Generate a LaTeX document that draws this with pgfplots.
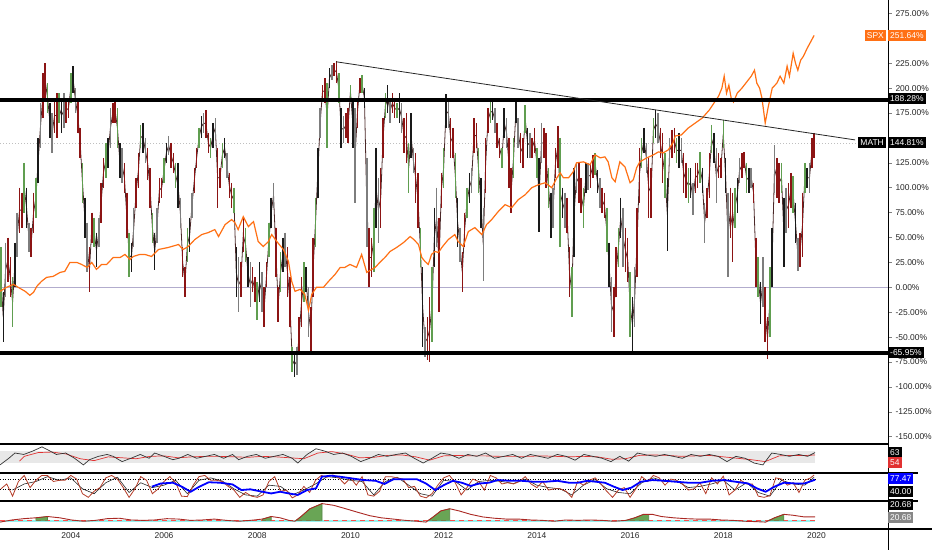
\documentclass[border=0pt]{standalone}
\usepackage{fontspec}
\setmainfont{Liberation Sans}
\usepackage{pgfplots}
\usepackage{pgfplotstable}
\pgfplotsset{compat=1.18}

\definecolor{spx}{RGB}{255,112,20}
\definecolor{zeroline}{RGB}{178,172,205}
\definecolor{rsiband}{RGB}{232,232,232}
\definecolor{rsired}{RGB}{225,50,50}
\definecolor{stochred}{RGB}{180,60,40}
\definecolor{adxgreen}{RGB}{105,165,85}
\definecolor{adxred}{RGB}{170,40,35}
\definecolor{cyanband}{RGB}{150,242,238}
\definecolor{lblgrey}{RGB}{135,135,135}
\definecolor{midline}{RGB}{75,40,40}
\newcommand\lbl{\fontsize{8.5}{10}\selectfont}

% MATH weekly ranges (% change), sampled every 0.05 yr: x high low
\pgfplotstableread{
x hi lo
2002.50 40 -20
2002.55 -5 -55
2002.60 45 -10
2002.65 50 5
2002.70 30 -10
2002.75 10 -40
2002.80 45 0
2002.85 75 30
2002.90 100 55
2002.95 95 60
2003.00 125 75
2003.05 100 60
2003.10 65 35
2003.15 60 30
2003.20 95 55
2003.25 110 70
2003.30 150 105
2003.35 185 140
2003.40 215 170
2003.45 225 190
2003.50 205 175
2003.55 185 150
2003.60 175 135
2003.65 190 155
2003.70 195 150
2003.75 195 165
2003.80 190 155
2003.85 195 160
2003.90 190 165
2003.95 190 170
2004.00 215 185
2004.05 222 195
2004.10 200 175
2004.15 190 155
2004.20 160 130
2004.25 125 85
2004.30 90 50
2004.35 65 15
2004.40 40 -5
2004.45 75 45
2004.50 70 40
2004.55 55 20
2004.60 70 40
2004.65 105 65
2004.70 130 100
2004.75 145 110
2004.80 150 120
2004.85 180 140
2004.90 185 165
2004.95 190 165
2005.00 180 140
2005.05 145 110
2005.10 140 105
2005.15 125 95
2005.20 95 50
2005.25 55 10
2005.30 45 15
2005.35 80 40
2005.40 110 80
2005.45 135 100
2005.50 163 140
2005.55 165 135
2005.60 150 125
2005.65 140 108
2005.70 120 80
2005.75 75 45
2005.80 55 17
2005.85 80 45
2005.90 110 85
2005.95 110 90
2006.00 130 105
2006.05 145 125
2006.10 152 133
2006.15 145 120
2006.20 135 115
2006.25 125 100
2006.30 125 80
2006.35 90 60
2006.40 40 10
2006.45 20 -10
2006.50 60 25
2006.55 70 35
2006.60 95 70
2006.65 120 95
2006.70 140 120
2006.75 160 140
2006.80 172 150
2006.85 175 155
2006.90 178 150
2006.95 155 135
2007.00 150 130
2007.05 165 140
2007.10 170 150
2007.15 140 80
2007.20 120 100
2007.25 145 120
2007.30 150 130
2007.35 135 110
2007.40 115 90
2007.45 105 80
2007.50 100 75
2007.55 40 -10
2007.60 30 -25
2007.65 25 -10
2007.70 70 35
2007.75 60 25
2007.80 30 0
2007.85 25 -20
2007.90 20 -5
2007.95 10 -15
2008.00 5 -33
2008.05 25 -15
2008.10 15 -25
2008.15 0 -40
2008.20 25 0
2008.25 65 30
2008.30 90 60
2008.35 105 80
2008.40 60 10
2008.45 0 -35
2008.50 35 -5
2008.55 50 15
2008.60 55 20
2008.65 40 -10
2008.70 10 -40
2008.75 -60 -85
2008.80 -65 -90
2008.85 -60 -88
2008.90 -30 -65
2008.95 10 -40
2009.00 25 -15
2009.05 20 -5
2009.10 0 -50
2009.15 -20 -68
2009.20 50 -10
2009.25 90 40
2009.30 140 90
2009.35 180 150
2009.40 203 190
2009.45 210 185
2009.50 205 140
2009.55 220 200
2009.60 223 208
2009.65 225 212
2009.70 227 205
2009.75 215 185
2009.80 180 140
2009.85 172 145
2009.90 175 150
2009.95 180 145
2010.00 203 190
2010.05 190 140
2010.10 180 85
2010.15 190 160
2010.20 210 195
2010.25 213 195
2010.30 200 180
2010.35 130 40
2010.40 60 0
2010.45 50 10
2010.50 80 15
2010.55 140 60
2010.60 110 45
2010.65 120 60
2010.70 170 130
2010.75 195 170
2010.80 203 175
2010.85 190 165
2010.90 195 175
2010.95 190 170
2011.00 185 170
2011.05 195 165
2011.10 185 155
2011.15 170 135
2011.20 175 125
2011.25 145 95
2011.30 175 130
2011.35 140 115
2011.40 135 85
2011.45 115 60
2011.50 60 20
2011.55 20 -60
2011.60 -40 -70
2011.65 -30 -73
2011.70 -10 -75
2011.75 20 -55
2011.80 80 20
2011.85 100 40
2011.90 70 -25
2011.95 115 80
2012.00 140 100
2012.05 194 160
2012.10 190 160
2012.15 170 130
2012.20 160 130
2012.25 135 90
2012.30 90 40
2012.35 60 25
2012.40 35 -5
2012.45 75 40
2012.50 100 70
2012.55 115 85
2012.60 120 95
2012.65 170 135
2012.70 165 140
2012.75 140 95
2012.80 110 60
2012.85 80 6
2012.90 150 95
2012.95 180 155
2013.00 186 165
2013.05 186 168
2013.10 180 155
2013.15 165 140
2013.20 150 130
2013.25 140 120
2013.30 180 150
2013.35 170 140
2013.40 150 100
2013.45 120 75
2013.50 150 110
2013.55 188 165
2013.60 170 140
2013.65 155 125
2013.70 150 120
2013.75 183 155
2013.80 160 130
2013.85 155 130
2013.90 150 130
2013.95 160 135
2014.00 140 110
2014.05 130 56
2014.10 165 125
2014.15 160 130
2014.20 155 100
2014.25 120 80
2014.30 95 50
2014.35 100 60
2014.40 140 110
2014.45 162 120
2014.50 150 40
2014.55 100 70
2014.60 95 60
2014.65 90 55
2014.70 40 -10
2014.75 20 -30
2014.80 120 30
2014.85 125 95
2014.90 125 85
2014.95 110 75
2015.00 100 60
2015.05 125 95
2015.10 125 98
2015.15 125 100
2015.20 133 110
2015.25 135 113
2015.30 118 95
2015.35 110 80
2015.40 100 75
2015.45 95 70
2015.50 80 35
2015.55 45 0
2015.60 10 -45
2015.65 0 -50
2015.70 40 -10
2015.75 60 20
2015.80 90 50
2015.85 80 20
2015.90 60 15
2015.95 50 5
2016.00 15 -50
2016.05 -10 -64
2016.10 20 -40
2016.15 80 10
2016.20 140 85
2016.25 150 120
2016.30 160 135
2016.35 145 115
2016.40 130 70
2016.45 120 70
2016.50 170 145
2016.55 178 150
2016.60 175 145
2016.65 160 130
2016.70 155 105
2016.75 135 90
2016.80 110 36
2016.85 150 125
2016.90 158 130
2016.95 160 135
2017.00 150 125
2017.05 155 120
2017.10 150 125
2017.15 135 95
2017.20 125 90
2017.25 120 85
2017.30 120 90
2017.35 105 73
2017.40 125 95
2017.45 125 100
2017.50 136 105
2017.55 120 95
2017.60 85 45
2017.65 100 70
2017.70 135 90
2017.75 163 135
2017.80 155 125
2017.85 140 85
2017.90 135 110
2017.95 130 110
2018.00 168 140
2018.05 130 95
2018.10 95 10
2018.15 100 50
2018.20 95 25
2018.25 100 60
2018.30 110 75
2018.35 130 105
2018.40 135 110
2018.45 136 120
2018.50 125 95
2018.55 120 95
2018.60 120 100
2018.65 105 85
2018.70 50 0
2018.75 30 -10
2018.80 5 -37
2018.85 30 -20
2018.90 0 -55
2018.95 -30 -72
2019.00 20 -50
2019.05 60 0
2019.10 143 95
2019.15 130 90
2019.20 125 85
2019.25 125 95
2019.30 90 20
2019.35 100 55
2019.40 105 60
2019.45 115 80
2019.50 112 75
2019.55 85 45
2019.60 50 16
2019.65 55 20
2019.70 95 30
2019.75 125 95
2019.80 120 100
2019.85 125 95
2019.90 150 120
2019.95 155 130
}\mathdata

% SPX (% change)
\pgfplotstableread{
x y
2002.48 -4
2002.62 0
2002.77 3
2002.87 0
2003.02 -4
2003.12 -8
2003.20 -5
2003.27 1
2003.37 6
2003.48 10
2003.62 11
2003.77 15
2003.87 16
2003.98 25
2004.13 25
2004.23 23
2004.35 20
2004.45 25
2004.55 18
2004.66 23
2004.77 23
2004.91 30
2005.06 30
2005.16 33
2005.27 28
2005.34 31
2005.48 33
2005.59 33
2005.73 31
2005.88 38
2006.09 40
2006.31 43
2006.41 38
2006.52 41
2006.66 48
2006.81 53
2006.95 55
2007.09 58
2007.17 51
2007.31 63
2007.45 68
2007.52 65
2007.59 58
2007.70 71
2007.81 61
2007.92 66
2008.02 46
2008.13 41
2008.24 46
2008.31 53
2008.42 46
2008.56 38
2008.67 26
2008.74 6
2008.81 -4
2008.92 -2
2009.02 -7
2009.10 -23
2009.17 -7
2009.27 0
2009.42 0
2009.53 6
2009.67 13
2009.78 20
2009.88 20
2009.99 23
2010.13 20
2010.24 33
2010.35 15
2010.42 17
2010.53 20
2010.63 25
2010.74 30
2010.85 36
2010.99 40
2011.14 45
2011.28 51
2011.36 48
2011.46 43
2011.53 30
2011.60 26
2011.67 23
2011.74 33
2011.81 36
2011.89 35
2011.96 40
2012.10 48
2012.24 53
2012.31 46
2012.42 41
2012.53 56
2012.67 60
2012.82 53
2012.92 63
2013.03 68
2013.17 76
2013.32 83
2013.46 80
2013.60 88
2013.75 93
2013.89 100
2014.03 103
2014.18 105
2014.32 100
2014.43 110
2014.50 115
2014.57 110
2014.68 110
2014.78 116
2014.85 125
2015.00 126
2015.14 123
2015.25 133
2015.36 130
2015.46 131
2015.53 126
2015.61 110
2015.68 106
2015.78 126
2015.89 121
2016.00 105
2016.07 108
2016.14 120
2016.21 126
2016.36 130
2016.50 133
2016.61 136
2016.71 135
2016.82 138
2016.92 145
2016.97 152
2017.10 153
2017.25 160
2017.40 165
2017.55 170
2017.70 178
2017.80 185
2017.90 192
2017.97 200
2018.02 212
2018.07 195
2018.12 203
2018.17 190
2018.22 186
2018.30 195
2018.40 200
2018.50 206
2018.60 212
2018.67 218
2018.72 205
2018.78 200
2018.83 190
2018.90 165
2018.96 180
2019.05 200
2019.15 205
2019.22 212
2019.30 205
2019.37 222
2019.42 212
2019.50 235
2019.55 225
2019.60 218
2019.66 228
2019.72 232
2019.80 240
2019.87 246
2019.95 253
}\spxdata

% RSI
\pgfplotstableread{
x y
2002.48 37
2002.67 51
2002.80 62
2002.99 59
2003.18 66
2003.38 75
2003.50 69
2003.69 59
2003.89 62
2004.08 51
2004.27 37
2004.40 48
2004.59 55
2004.78 59
2004.91 55
2005.10 44
2005.29 51
2005.49 59
2005.68 51
2005.80 62
2006.00 55
2006.19 48
2006.32 51
2006.51 59
2006.70 51
2006.89 55
2007.08 59
2007.28 51
2007.47 59
2007.60 48
2007.79 55
2007.98 59
2008.17 51
2008.36 55
2008.55 59
2008.75 51
2008.87 41
2009.07 59
2009.26 71
2009.45 66
2009.64 59
2009.83 62
2010.02 55
2010.22 44
2010.41 51
2010.60 59
2010.79 55
2010.98 59
2011.18 62
2011.37 51
2011.56 41
2011.75 51
2011.94 62
2012.13 59
2012.33 51
2012.52 59
2012.71 55
2012.90 62
2013.09 51
2013.29 55
2013.48 59
2013.67 51
2013.86 59
2014.05 55
2014.24 51
2014.44 59
2014.63 55
2014.82 47
2015.01 59
2015.20 55
2015.40 51
2015.59 44
2015.78 55
2015.97 45
2016.16 62
2016.35 58
2016.55 55
2016.74 59
2016.93 55
2017.12 51
2017.31 59
2017.51 55
2017.70 59
2017.89 55
2018.08 44
2018.27 55
2018.47 51
2018.66 41
2018.85 37
2019.04 62
2019.23 59
2019.42 55
2019.62 59
2019.81 55
2019.97 63
}\rsidata

\pgfplotstableread{
x y
2002.90 45
2003.00 55
2003.30 63
2003.60 64
2003.90 60
2004.20 50
2004.50 46
2004.80 54
2005.10 52
2005.40 50
2005.70 55
2006.00 56
2006.30 52
2006.60 54
2006.90 55
2007.20 55
2007.50 54
2007.80 53
2008.10 55
2008.40 54
2008.70 52
2009.00 50
2009.30 62
2009.60 65
2009.90 60
2010.20 52
2010.50 53
2010.80 57
2011.10 58
2011.40 54
2011.70 47
2012.00 56
2012.30 57
2012.60 56
2012.90 56
2013.20 55
2013.50 55
2013.80 55
2014.10 56
2014.40 55
2014.70 54
2015.00 55
2015.30 54
2015.60 49
2015.90 50
2016.20 57
2016.50 58
2016.80 57
2017.10 55
2017.40 56
2017.70 57
2018.00 54
2018.30 51
2018.60 48
2018.90 44
2019.20 56
2019.50 57
2019.80 57
2019.97 58
}\rsimadata

% stochastic %K
\pgfplotstableread{
x y
2002.500 40
2002.625 60
2002.750 10
2002.875 70
2003.000 95
2003.125 45
2003.250 75
2003.375 95
2003.500 95
2003.625 70
2003.750 75
2003.875 75
2004.000 95
2004.125 80
2004.250 20
2004.375 5
2004.500 30
2004.625 45
2004.750 85
2004.875 95
2005.000 80
2005.125 45
2005.250 5
2005.375 40
2005.500 90
2005.625 75
2005.750 20
2005.875 40
2006.000 70
2006.125 90
2006.250 65
2006.375 10
2006.500 8
2006.625 55
2006.750 90
2006.875 95
2007.000 75
2007.125 75
2007.250 70
2007.375 50
2007.500 35
2007.625 5
2007.750 25
2007.875 10
2008.000 5
2008.125 15
2008.250 70
2008.375 90
2008.500 30
2008.625 35
2008.750 3
2008.875 15
2009.000 50
2009.125 25
2009.250 75
2009.375 95
2009.500 88
2009.625 97
2009.750 85
2009.875 60
2010.000 85
2010.125 55
2010.250 90
2010.375 15
2010.500 10
2010.625 30
2010.750 90
2010.875 90
2011.000 85
2011.125 80
2011.250 45
2011.375 50
2011.500 10
2011.625 3
2011.750 20
2011.875 55
2012.000 85
2012.125 95
2012.250 65
2012.375 15
2012.500 45
2012.625 80
2012.750 70
2012.875 35
2013.000 95
2013.125 85
2013.250 60
2013.375 65
2013.500 60
2013.625 70
2013.750 90
2013.875 60
2014.000 45
2014.125 70
2014.250 35
2014.375 40
2014.500 40
2014.625 30
2014.750 5
2014.875 70
2015.000 55
2015.125 75
2015.250 85
2015.375 60
2015.500 30
2015.625 5
2015.750 35
2015.875 45
2016.000 5
2016.125 40
2016.250 90
2016.375 70
2016.500 95
2016.625 85
2016.750 55
2016.875 80
2017.000 75
2017.125 60
2017.250 35
2017.375 40
2017.500 65
2017.625 20
2017.750 85
2017.875 60
2018.000 92
2018.125 15
2018.250 35
2018.375 75
2018.500 60
2018.625 60
2018.750 10
2018.875 5
2019.000 12
2019.125 85
2019.250 80
2019.375 55
2019.500 65
2019.625 25
2019.750 75
2019.875 85
2019.950 97
}\stochk

% stochastic %D
\pgfplotstableread{
x y
2002.75 35
2003.00 60
2003.25 70
2003.50 90
2003.75 75
2004.00 85
2004.25 40
2004.50 20
2004.75 65
2005.00 88
2005.25 25
2005.50 65
2005.75 45
2006.00 55
2006.25 75
2006.50 20
2006.75 75
2007.00 85
2007.25 72
2007.50 40
2007.75 15
2008.00 10
2008.25 55
2008.50 50
2008.75 15
2009.00 35
2009.25 60
2009.50 90
2009.75 85
2010.00 75
2010.25 70
2010.50 15
2010.75 70
2011.00 88
2011.25 55
2011.50 20
2011.75 10
2012.00 75
2012.25 70
2012.50 35
2012.75 70
2013.00 75
2013.25 70
2013.50 62
2013.75 80
2014.00 55
2014.25 45
2014.50 40
2014.75 15
2015.00 55
2015.25 78
2015.50 40
2015.75 25
2016.00 20
2016.25 65
2016.50 85
2016.75 70
2017.00 72
2017.25 45
2017.50 50
2017.75 60
2018.00 75
2018.25 35
2018.50 65
2018.75 25
2019.00 10
2019.25 75
2019.50 60
2019.75 55
2019.95 88
}\stochd

% slow line (blue)
\pgfplotstableread{
x y
2005.74 49
2005.93 62
2006.19 65
2006.38 49
2006.57 28
2006.76 49
2006.96 67
2007.21 65
2007.47 58
2007.66 35
2007.85 38
2008.11 28
2008.30 21
2008.49 28
2008.68 21
2008.87 15
2009.07 35
2009.26 42
2009.39 90
2009.58 94
2009.77 90
2010.02 83
2010.28 76
2010.54 73
2010.73 60
2010.92 79
2011.18 79
2011.43 79
2011.62 62
2011.82 35
2012.01 56
2012.20 73
2012.39 65
2012.58 52
2012.77 62
2012.97 65
2013.16 76
2013.41 73
2013.67 73
2013.93 69
2014.18 69
2014.44 73
2014.69 65
2014.88 65
2015.08 73
2015.27 69
2015.46 65
2015.65 49
2015.84 35
2016.03 45
2016.23 69
2016.48 76
2016.74 73
2016.99 69
2017.25 65
2017.51 65
2017.76 73
2018.02 76
2018.27 69
2018.53 62
2018.72 42
2018.91 28
2019.10 49
2019.30 65
2019.55 62
2019.74 62
2019.97 77
}\bluedata

% ADX
\pgfplotstableread{
x y
2002.48 16
2002.74 21
2002.99 24
2003.25 26
2003.50 29
2003.76 26
2004.01 21
2004.27 18
2004.53 20
2004.78 24
2005.04 25
2005.29 21
2005.55 20
2005.80 21
2006.06 24
2006.32 23
2006.57 20
2006.83 21
2007.08 23
2007.34 20
2007.60 18
2007.85 20
2008.11 23
2008.30 29
2008.49 26
2008.68 20
2008.81 18
2008.94 29
2009.13 47
2009.39 59
2009.64 55
2009.90 47
2010.15 39
2010.41 31
2010.66 26
2010.92 23
2011.18 20
2011.43 18
2011.62 16
2011.75 26
2011.94 42
2012.13 47
2012.33 42
2012.58 34
2012.84 28
2013.09 25
2013.35 23
2013.61 23
2013.86 21
2014.12 20
2014.37 18
2014.63 21
2014.88 20
2015.14 21
2015.40 20
2015.65 18
2015.91 20
2016.10 26
2016.29 34
2016.48 34
2016.67 29
2016.93 26
2017.19 24
2017.44 23
2017.70 23
2017.95 21
2018.21 20
2018.46 18
2018.72 17
2018.91 16
2019.10 26
2019.30 34
2019.49 32
2019.74 28
2019.97 28
}\adxdata

\pgfplotsset{
  panel/.style={scale only axis, width=888bp, xmin=2002.48, xmax=2021.535,
    anchor=south west},
  hump/.style={fill=adxgreen, draw=adxgreen!80!black, line width=0.6bp, forget plot},
}

\begin{document}
\begin{tikzpicture}
\path[use as bounding box] (0,0) rectangle (932bp,550bp);

% ---------------- main panel ----------------
\begin{axis}[panel, at={(0,106bp)}, height=444bp,
  ymin=-157.3, ymax=288.5,
  axis x line=none, axis y line*=right,
  xtick=\empty,
  ytick={-150,-125,...,125,175,200,225,275},
  extra y ticks={150,250}, extra y tick labels={},
  yticklabel={\pgfmathprintnumber[fixed,fixed zerofill,precision=2,assume math mode=true]{\tick}\%},
  yticklabel style={font=\lbl, text=black!85},
  tick align=outside, major tick length=4bp,
  y axis line style={line width=0.8bp},
  ytick style={line width=0.6bp},
  colormap={barcols}{rgb255=(96,158,80) rgb255=(25,25,25) rgb255=(205,90,90)
    rgb255=(125,125,125) rgb255=(140,20,20) rgb255=(140,20,20)},
  colormap access=piecewise constant,
  point meta min=0, point meta max=5]

\addplot[zeroline, line width=0.6bp, forget plot] coordinates {(2002.48,0) (2021.535,0)};
\addplot[black!25, line width=0.7bp, dash pattern=on 1bp off 2bp, forget plot] coordinates {(2002.48,144.81) (2021.535,144.81)};

% path through the bars
\addplot[midline, line width=0.8bp, forget plot]
  table[x=x, y expr={(\thisrow{hi}+\thisrow{lo})/2}] {\mathdata};

% high-low bars
\addplot[forget plot, line width=1.5bp,
  point meta={mod(\coordindex,5)+0.5},
  quiver={u=0, v={\thisrow{lo}-\thisrow{hi}}, colored=mapped color,
          every arrow/.append style={line width=1.5bp}}]
  table[x=x, y=hi] {\mathdata};

\addplot[spx, line width=1.2bp] table {\spxdata};

% channel and trendline
\addplot[black, line width=4bp] coordinates {(2002.48,188.28) (2021.535,188.28)};
\addplot[black, line width=4bp] coordinates {(2002.48,-65.95) (2021.535,-65.95)};
\addplot[black!85, line width=0.8bp] coordinates {(2009.69,226.5) (2020.83,148)};
\end{axis}

% ---------------- RSI panel ----------------
\begin{axis}[panel, at={(0,77bp)}, height=29bp, ymin=20, ymax=81,
  axis lines=none, xtick=\empty, ytick=\empty]
\fill[rsiband] (axis cs:2002.48,40) rectangle (axis cs:2019.97,67);
\addplot[rsired, line width=0.7bp] table {\rsimadata};
\addplot[black!80, line width=0.7bp] table {\rsidata};
\end{axis}

% ---------------- stochastic panel ----------------
\begin{axis}[panel, at={(0,49bp)}, height=28bp, ymin=-10, ymax=105,
  axis lines=none, xtick=\empty, ytick=\empty]
\addplot[black, line width=0.6bp, dash pattern=on 1bp off 1.5bp] coordinates {(2002.48,80) (2019.97,80)};
\addplot[black, line width=0.6bp, dash pattern=on 1bp off 1.5bp] coordinates {(2002.48,40) (2019.97,40)};
\addplot[black!85, line width=0.6bp] table {\stochd};
\addplot[stochred, line width=0.8bp] table {\stochk};
\addplot[blue, line width=1.8bp] table {\bluedata};
\end{axis}

% ---------------- ADX panel ----------------
\begin{axis}[panel, at={(0,21bp)}, height=28bp, ymin=0, ymax=65,
  axis y line=none, axis x line*=bottom, x axis line style={draw=none},
  ytick=\empty,
  xtick={2004,2006,2008,2010,2012,2014,2016,2018,2020},
  xticklabels={2004,2006,2008,2010,2012,2014,2016,2018,2020},
  xticklabel style={font=\lbl, text=black!85},
  major tick length=0pt]
\fill[cyanband] (axis cs:2002.48,17) rectangle (axis cs:2019.97,21.5);
\addplot[red!70, line width=0.8bp, dash pattern=on 5bp off 4bp] coordinates {(2002.48,19) (2019.97,19)};
\addplot[hump] coordinates {(2003.25,20) (2003.25,26) (2003.50,29) (2003.50,20)} -- cycle;
\addplot[hump] coordinates {(2008.11,20) (2008.11,23) (2008.30,29) (2008.30,20)} -- cycle;
\addplot[hump] coordinates {(2008.83,20) (2008.94,29) (2009.13,47) (2009.39,59) (2009.39,20)} -- cycle;
\addplot[hump] coordinates {(2011.67,20) (2011.75,26) (2011.94,42) (2012.13,47) (2012.13,20)} -- cycle;
\addplot[hump] coordinates {(2015.91,20) (2016.10,26) (2016.29,34) (2016.40,34) (2016.40,20)} -- cycle;
\addplot[hump] coordinates {(2018.97,20) (2019.10,26) (2019.30,34) (2019.30,20)} -- cycle;
\addplot[adxred, line width=0.9bp] table {\adxdata};
\end{axis}

% frame lines
\draw[line width=1.2bp] (0,106bp) -- (888bp,106bp);
\draw[line width=1.2bp] (0,77bp) -- (918bp,77bp);
\draw[line width=1.2bp] (0,49bp) -- (918bp,49bp);
\draw[line width=1.2bp] (0,21bp) -- (932bp,21bp);
\draw[line width=0.8bp] (888bp,0) -- (888bp,550bp);

% price labels
\tikzset{box/.style={font=\lbl, text=white, inner xsep=2bp, inner ysep=0pt, minimum height=11bp}}
\node[box, fill=spx, anchor=east] at (886bp,514bp) {SPX};
\node[box, fill=spx, anchor=west] at (888bp,514bp) {251.64\%};
\node[box, fill=black, anchor=west] at (888bp,451bp) {188.28\%};
\node[box, fill=black, anchor=east] at (886bp,407bp) {MATH};
\node[box, fill=black, anchor=west] at (888bp,407bp) {144.81\%};
\node[box, fill=black, anchor=west] at (888bp,197bp) {-65.95\%};
\node[box, fill=black, anchor=west] at (888bp,97bp) {63};
\node[box, fill=rsired, anchor=west] at (888bp,87bp) {54};
\node[box, fill=blue, anchor=west] at (888bp,71bp) {77.47};
\node[box, fill=black, anchor=west] at (888bp,58bp) {40.00};
\node[box, fill=black, anchor=west] at (888bp,45bp) {20.68};
\node[box, fill=lblgrey, anchor=west] at (888bp,32bp) {20.68};
\end{tikzpicture}
\end{document}
